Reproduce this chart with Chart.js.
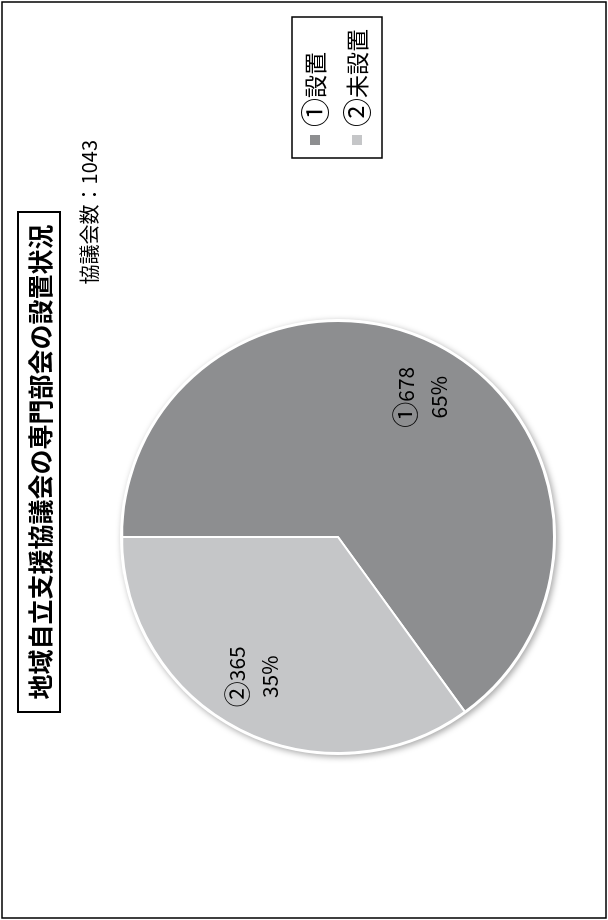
<!DOCTYPE html>
<html>
<head>
<meta charset="utf-8">
<script src="https://cdn.jsdelivr.net/npm/chart.js@4/dist/chart.umd.min.js"></script>
<style>
  html, body { margin: 0; padding: 0; background: #fff; overflow: hidden; width: 608px; height: 920px; }
  /* the whole sheet is printed turned a quarter turn, so draw it flat and turn it */
  #sheet {
    position: absolute; left: 0; top: 0; width: 920px; height: 608px;
    transform-origin: 0 0;
    transform: translateY(920px) rotate(-90deg);
  }
</style>
</head>
<body>
<div id="sheet"><canvas id="pie" width="920" height="608"></canvas></div>
<script>
const titleText = '地域自立支援協議会の専門部会の設置状況';
const subtitleText = '協議会数：1043';
const categories = ['①設置', '②未設置'];
const values = [678, 365];
const colors = ['#8d8e90', '#c5c6c8'];

const FONT = '"Noto Sans CJK JP", "Noto Sans", sans-serif';

// the circled number is drawn a bit larger so its ring matches the print
function drawWithMark(ctx, str, x, y, size, align) {
  const chars = Array.from(str);
  const mark = chars[0], rest = chars.slice(1).join('');
  const big = Math.round(size * 1.25);
  ctx.font = big + 'px ' + FONT;
  const w1 = ctx.measureText(mark).width;
  ctx.font = size + 'px ' + FONT;
  const w2 = ctx.measureText(rest).width;
  const left = align === 'center' ? x - (w1 + w2) / 2 : x;
  ctx.textAlign = 'left';
  ctx.font = big + 'px ' + FONT;
  ctx.fillText(mark, left, y);
  ctx.font = size + 'px ' + FONT;
  ctx.fillText(rest, left + w1, y);
}

// frame, title box, subtitle and boxed legend
const sheetPlugin = {
  id: 'sheet',
  beforeDraw(chart) {
    const ctx = chart.ctx;
    ctx.save();
    ctx.fillStyle = '#fff';
    ctx.fillRect(0, 0, chart.width, chart.height);
    ctx.strokeStyle = '#000';
    ctx.lineWidth = 1.5;
    ctx.strokeRect(2, 2, chart.width - 4, chart.height - 4);

    // title
    ctx.lineWidth = 2;
    ctx.strokeRect(208, 18, 500, 42);
    ctx.fillStyle = '#000';
    ctx.font = 'bold 25px ' + FONT;
    ctx.textAlign = 'center';
    ctx.textBaseline = 'middle';
    ctx.fillText(titleText, 458, 40);

    // subtitle
    ctx.font = '20px ' + FONT;
    ctx.textAlign = 'right';
    ctx.fillText(subtitleText, 780, 89);

    // legend
    ctx.lineWidth = 1.5;
    ctx.strokeRect(762, 292, 141, 90);
    const ds = chart.data.datasets[0];
    chart.data.labels.forEach((lab, i) => {
      const y = 315 + i * 42;
      ctx.fillStyle = ds.backgroundColor[i];
      ctx.fillRect(775, y - 5, 10, 10);
      ctx.fillStyle = '#000';
      drawWithMark(ctx, lab, 793, y, 23, 'left');
    });
    ctx.restore();
  },
  beforeDatasetsDraw(chart) {
    // soft shadow and white rim behind the pie
    const arc = chart.getDatasetMeta(0).data[0];
    if (!arc) return;
    const ctx = chart.ctx;
    ctx.save();
    ctx.shadowColor = 'rgba(0,0,0,0.35)';
    ctx.shadowBlur = 6;
    ctx.shadowOffsetX = -2;
    ctx.shadowOffsetY = 2;
    ctx.fillStyle = '#fff';
    ctx.beginPath();
    ctx.arc(arc.x, arc.y, arc.outerRadius + 2, 0, Math.PI * 2);
    ctx.fill();
    ctx.restore();
  },
  afterDatasetsDraw(chart) {
    const ctx = chart.ctx;
    const ds = chart.data.datasets[0];
    const total = ds.data.reduce((a, b) => a + b, 0);
    ctx.save();
    ctx.fillStyle = '#000';
    ctx.textBaseline = 'middle';
    chart.getDatasetMeta(0).data.forEach((arc, i) => {
      const mid = (arc.startAngle + arc.endAngle) / 2 + 0.07;
      const r = arc.outerRadius * 0.755;
      const x = arc.x + Math.cos(mid) * r;
      const y = arc.y + Math.sin(mid) * r;
      const num = Array.from(chart.data.labels[i])[0];
      const pct = Math.round(ds.data[i] / total * 100) + '%';
      drawWithMark(ctx, num + ds.data[i], x, y - 16.5, 21, 'center');
      ctx.font = '21px ' + FONT;
      ctx.textAlign = 'center';
      ctx.fillText(pct, x, y + 16.5);
    });
    ctx.restore();
  }
};

new Chart(document.getElementById('pie'), {
  type: 'pie',
  data: {
    labels: categories,
    datasets: [{
      data: values,
      backgroundColor: colors,
      borderColor: '#fff',
      borderWidth: 2
    }]
  },
  options: {
    responsive: false,
    animation: false,
    devicePixelRatio: 1,
    layout: { padding: { left: 166, right: 320, top: 121, bottom: 53 } },
    plugins: {
      legend: { display: false },
      title: { display: false },
      tooltip: { enabled: false }
    }
  },
  plugins: [sheetPlugin]
});
</script>
</body>
</html>
